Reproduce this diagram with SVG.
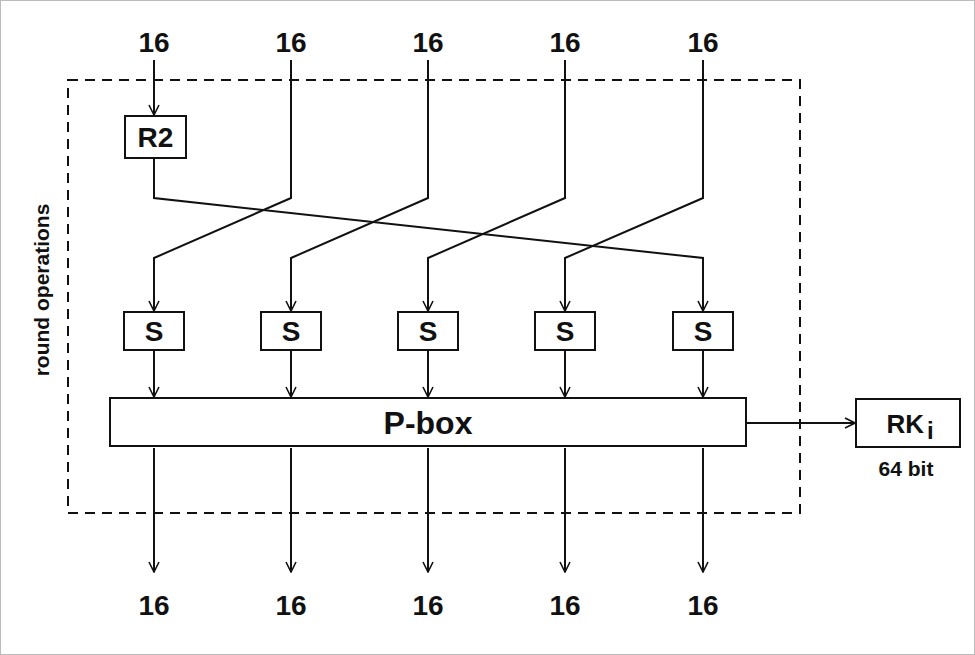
<svg xmlns="http://www.w3.org/2000/svg" width="975" height="655" viewBox="0 0 975 655">
<defs><marker id="a" markerWidth="12" markerHeight="12" refX="11" refY="6" orient="auto" markerUnits="userSpaceOnUse"><path d="M1,1 L11,6 L1,11" fill="none" stroke="#111" stroke-width="1.6"/></marker></defs>
<style>
.t{font-family:"Liberation Sans",Arial,sans-serif;font-weight:bold;fill:#111;text-anchor:middle}
.b{fill:#fff;stroke:#111;stroke-width:2}
.c{fill:none;stroke:#111;stroke-width:2}
</style>
<rect x="0.5" y="0.5" width="974" height="654" fill="#fff" stroke="#bbb"/>
<rect x="68" y="80" width="732" height="433" fill="none" stroke="#111" stroke-width="2" stroke-dasharray="10,7"/>
<text class="t" font-size="21" transform="translate(49,290) rotate(-90)">round operations</text>
<g id="inputs">
<text class="t" font-size="28" x="154" y="52">16</text><text class="t" font-size="28" x="291" y="52">16</text><text class="t" font-size="28" x="428" y="52">16</text><text class="t" font-size="28" x="565" y="52">16</text><text class="t" font-size="28" x="703" y="52">16</text>
</g>
<g id="connectors" class="c">
<path class="c" d="M154,60 V115" marker-end="url(#a)"/>
<path class="c" d="M154,158 V198 L703,258 V311" marker-end="url(#a)"/>
<path class="c" d="M291,60 V198 L154,258 V311" marker-end="url(#a)"/>
<path class="c" d="M428,60 V198 L291,258 V311" marker-end="url(#a)"/>
<path class="c" d="M565,60 V198 L428,258 V311" marker-end="url(#a)"/>
<path class="c" d="M703,60 V198 L565,258 V311" marker-end="url(#a)"/>
<path class="c" d="M154,350 V397" marker-end="url(#a)"/>
<path class="c" d="M291,350 V397" marker-end="url(#a)"/>
<path class="c" d="M428,350 V397" marker-end="url(#a)"/>
<path class="c" d="M565,350 V397" marker-end="url(#a)"/>
<path class="c" d="M703,350 V397" marker-end="url(#a)"/>
<path class="c" d="M154,448 V572" marker-end="url(#a)"/>
<path class="c" d="M291,448 V572" marker-end="url(#a)"/>
<path class="c" d="M428,448 V572" marker-end="url(#a)"/>
<path class="c" d="M565,448 V572" marker-end="url(#a)"/>
<path class="c" d="M703,448 V572" marker-end="url(#a)"/>
<path class="c" d="M746,423 H855" marker-end="url(#a)"/>
</g>
<g id="R2"><rect class="b" x="125" y="116" width="61" height="42"/><text class="t" font-size="28" x="155.5" y="147">R2</text></g>
<g id="S1"><rect class="b" x="124" y="312" width="60" height="38"/><text class="t" font-size="28" x="154" y="341">S</text></g>
<g id="S2"><rect class="b" x="261" y="312" width="60" height="38"/><text class="t" font-size="28" x="291" y="341">S</text></g>
<g id="S3"><rect class="b" x="398" y="312" width="60" height="38"/><text class="t" font-size="28" x="428" y="341">S</text></g>
<g id="S4"><rect class="b" x="535" y="312" width="60" height="38"/><text class="t" font-size="28" x="565" y="341">S</text></g>
<g id="S5"><rect class="b" x="673" y="312" width="60" height="38"/><text class="t" font-size="28" x="703" y="341">S</text></g>
<g id="Pbox"><rect class="b" x="110" y="398" width="636" height="48"/><text class="t" font-size="32" x="428" y="434">P-box</text></g>
<g id="RK"><rect class="b" x="856" y="399" width="104" height="48"/><text class="t" font-size="26" x="910" y="433">RK<tspan font-size="24" dx="3" dy="6">i</tspan></text><text class="t" font-size="21" x="906" y="476">64 bit</text></g>
<g id="outputs">
<text class="t" font-size="28" x="154" y="615">16</text><text class="t" font-size="28" x="291" y="615">16</text><text class="t" font-size="28" x="428" y="615">16</text><text class="t" font-size="28" x="565" y="615">16</text><text class="t" font-size="28" x="703" y="615">16</text>
</g>
</svg>
